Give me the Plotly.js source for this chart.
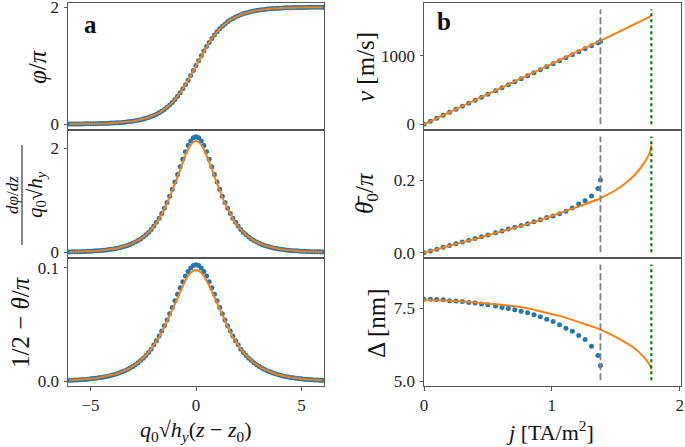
<!DOCTYPE html>
<html><head><meta charset="utf-8">
<script src="https://cdn.plot.ly/plotly-3.0.1.min.js"></script>
<style>html,body{margin:0;padding:0;background:#fff}</style>
</head><body><div id="chart" style="width:685px;height:447px"></div>
<script>
// ---- panel a data (x = q0*sqrt(hy)*(z - z0)) ----
const xA = [-6,-5.875,-5.75,-5.625,-5.5,-5.375,-5.25,-5.125,-5,-4.875,-4.75,-4.625,-4.5,-4.375,-4.25,-4.125,-4,-3.875,-3.75,-3.625,-3.5,-3.375,-3.25,-3.125,-3,-2.875,-2.75,-2.625,-2.5,-2.375,-2.25,-2.125,-2,-1.875,-1.75,-1.625,-1.5,-1.375,-1.25,-1.125,-1,-0.875,-0.75,-0.625,-0.5,-0.375,-0.25,-0.125,0,0.125,0.25,0.375,0.5,0.625,0.75,0.875,1,1.125,1.25,1.375,1.5,1.625,1.75,1.875,2,2.125,2.25,2.375,2.5,2.625,2.75,2.875,3,3.125,3.25,3.375,3.5,3.625,3.75,3.875,4,4.125,4.25,4.375,4.5,4.625,4.75,4.875,5,5.125,5.25,5.375,5.5,5.625,5.75,5.875,6];
const phi = [0.002,0.002,0.003,0.003,0.004,0.004,0.005,0.005,0.006,0.007,0.008,0.009,0.010,0.012,0.013,0.015,0.018,0.020,0.023,0.026,0.030,0.034,0.039,0.045,0.051,0.059,0.067,0.077,0.088,0.100,0.114,0.131,0.149,0.170,0.194,0.221,0.252,0.287,0.327,0.371,0.420,0.476,0.537,0.603,0.675,0.751,0.832,0.915,1,1.085,1.168,1.249,1.325,1.397,1.463,1.524,1.580,1.629,1.673,1.713,1.748,1.779,1.806,1.830,1.851,1.869,1.886,1.900,1.912,1.923,1.933,1.941,1.949,1.955,1.961,1.966,1.970,1.974,1.977,1.980,1.982,1.985,1.987,1.988,1.990,1.991,1.992,1.993,1.994,1.995,1.995,1.996,1.996,1.997,1.997,1.998,1.998];
const dphiLine = [0.007,0.008,0.009,0.010,0.012,0.014,0.016,0.018,0.020,0.023,0.027,0.030,0.035,0.040,0.045,0.052,0.059,0.068,0.077,0.088,0.101,0.116,0.132,0.151,0.172,0.197,0.225,0.257,0.294,0.335,0.382,0.436,0.497,0.565,0.643,0.730,0.826,0.934,1.051,1.178,1.314,1.455,1.597,1.737,1.866,1.979,2.066,2.121,2.140,2.121,2.066,1.979,1.866,1.737,1.597,1.455,1.314,1.178,1.051,0.934,0.826,0.730,0.643,0.565,0.497,0.436,0.382,0.335,0.294,0.257,0.225,0.197,0.172,0.151,0.132,0.116,0.101,0.088,0.077,0.068,0.059,0.052,0.045,0.040,0.035,0.030,0.027,0.023,0.020,0.018,0.016,0.014,0.012,0.010,0.009,0.008,0.007];
const dphiDots = [0.007,0.008,0.009,0.010,0.012,0.014,0.016,0.018,0.020,0.023,0.027,0.030,0.035,0.040,0.045,0.052,0.059,0.068,0.077,0.088,0.101,0.116,0.132,0.151,0.172,0.197,0.225,0.257,0.294,0.335,0.382,0.436,0.505,0.575,0.655,0.745,0.845,0.955,1.075,1.21,1.35,1.495,1.645,1.79,1.93,2.05,2.14,2.20,2.22,2.20,2.14,2.05,1.93,1.79,1.645,1.495,1.35,1.21,1.075,0.955,0.845,0.745,0.655,0.575,0.505,0.436,0.382,0.335,0.294,0.257,0.225,0.197,0.172,0.151,0.132,0.116,0.101,0.088,0.077,0.068,0.059,0.052,0.045,0.040,0.035,0.030,0.027,0.023,0.020,0.018,0.016,0.014,0.012,0.010,0.009,0.008,0.007];
const thLine = [.0009,.0010,.0011,.0012,.0014,.0016,.0017,.0019,.0022,.0024,.0027,.0031,.0034,.0038,.0043,.0048,.0054,.0060,.0067,.0075,.0084,.0094,.0105,.0117,.0131,.0147,.0164,.0183,.0204,.0228,.0254,.0283,.0315,.0351,.0389,.0431,.0476,.0524,.0576,.0629,.0684,.0739,.0792,.0843,.0889,.0927,.0956,.0974,.0980,.0974,.0956,.0927,.0889,.0843,.0792,.0739,.0684,.0629,.0576,.0524,.0476,.0431,.0389,.0351,.0315,.0283,.0254,.0228,.0204,.0183,.0164,.0147,.0131,.0117,.0105,.0094,.0084,.0075,.0067,.0060,.0054,.0048,.0043,.0038,.0034,.0031,.0027,.0024,.0022,.0019,.0017,.0016,.0014,.0012,.0011,.0010,.0009];
const thDots = [.0009,.0010,.0011,.0012,.0014,.0016,.0017,.0019,.0022,.0024,.0027,.0031,.0034,.0038,.0043,.0048,.0054,.0060,.0067,.0075,.0084,.0094,.0105,.0117,.0131,.0147,.0164,.0183,.0204,.0228,.0254,.0283,.0321,.0358,.0398,.0442,.0489,.0539,.0594,.0650,.0708,.0766,.0823,.0877,.0926,.0967,.0998,.1018,.1025,.1018,.0998,.0967,.0926,.0877,.0823,.0766,.0708,.0650,.0594,.0539,.0489,.0442,.0398,.0358,.0321,.0283,.0254,.0228,.0204,.0183,.0164,.0147,.0131,.0117,.0105,.0094,.0084,.0075,.0067,.0060,.0054,.0048,.0043,.0038,.0034,.0031,.0027,.0024,.0022,.0019,.0017,.0016,.0014,.0012,.0011,.0010,.0009];

// ---- panel b data (j in TA/m^2) ----
const jDots = [0,0.05,0.10,0.15,0.20,0.25,0.30,0.35,0.40,0.45,0.50,0.56,0.61,0.66,0.71,0.76,0.81,0.86,0.91,0.96,1.01,1.06,1.11,1.16,1.21,1.26,1.31,1.36,1.38];
const vDots = [0,44,88,131,175,219,263,306,350,394,438,490,534,578,621,665,709,753,796,840,884,928,971,1015,1059,1103,1146,1190,1208];
const th0Dots = [0,.005,.0098,.0147,.0196,.0245,.0294,.0343,.0392,.0441,.049,.055,.060,.065,.070,.075,.080,.085,.091,.097,.101,.107,.114,.123,.134,.143,.156,.177,.200];
const deltaDots = [7.81,7.81,7.80,7.79,7.76,7.75,7.73,7.70,7.68,7.65,7.62,7.58,7.53,7.49,7.45,7.40,7.35,7.28,7.21,7.12,7.05,6.94,6.82,6.71,6.57,6.43,6.20,5.88,5.54];
const jLine = [0,0.2,0.4,0.6,0.8,0.91,1.067,1.224,1.38,1.537,1.642,1.72,1.76,1.772,1.778];
const vLine = [0,176,352,529,705,802,941,1080,1219,1360,1455,1525,1562,1578,1590];
const th0Line = [0,0.019,0.038,0.058,0.078,0.090,0.110,0.129,0.150,0.181,0.212,0.246,0.271,0.283,0.297];
const deltaLine = [7.78,7.76,7.70,7.62,7.51,7.40,7.23,7.01,6.77,6.43,6.15,5.83,5.60,5.50,5.40];
const jCross = 1.38;   // grey dashed marker
const jCrit = 1.778;   // green dotted marker

const BLUE = '#1f77b4', ORANGE = '#ff7f0e';
const FONT = '"Liberation Serif", "DejaVu Serif", serif';
const dots = (x, y, ax) => ({x, y, xaxis: 'x'+ax, yaxis: 'y'+ax, type: 'scatter', mode: 'markers',
  marker: {color: BLUE, size: 5}, hoverinfo: 'skip'});
const line = (x, y, ax, smooth) => ({x, y, xaxis: 'x'+ax, yaxis: 'y'+ax, type: 'scatter', mode: 'lines',
  line: {color: ORANGE, width: 2, shape: smooth ? 'spline' : 'linear', smoothing: 0.8}, hoverinfo: 'skip'});

const data = [
  dots(xA, phi, ''), line(xA, phi, ''),
  dots(xA, dphiDots, '2'), line(xA, dphiLine, '2'),
  dots(xA, thDots, '3'), line(xA, thLine, '3'),
  dots(jDots, vDots, '4'), line(jLine, vLine, '4', true),
  dots(jDots, th0Dots, '5'), line(jLine, th0Line, '5', true),
  dots(jDots, deltaDots, '6'), line(jLine, deltaLine, '6', true)
];

const L = 68, W = 613, T = 3, H = 383;
const px = v => (v - L) / W, py = v => (T + H - v) / H;
const colL = [0, px(324)], colR = [px(424), 1];
const rows = [[py(130), 1], [py(258), py(130)], [0, py(258)]];
const TICKF = {family: FONT, size: 17, color: '#222'};

function xax(dom, anchor, range, tv, tt, show) {
  return {domain: dom, anchor, range, showline: true, mirror: true, linecolor: '#555', linewidth: 1,
    zeroline: false, showgrid: false, ticks: show ? 'outside' : '', ticklen: 3.5, tickcolor: '#555',
    tickvals: tv, ticktext: tt, showticklabels: show, tickfont: TICKF, ticklabeloverflow: 'allow'};
}
function yax(dom, anchor, range, tv, tt) {
  return {domain: dom, anchor, range, showline: true, mirror: true, linecolor: '#555', linewidth: 1,
    zeroline: false, showgrid: false, ticks: 'outside', ticklen: 3.5, tickcolor: '#555',
    tickvals: tv, ticktext: tt, tickfont: TICKF, ticklabeloverflow: 'allow', ticklabelstandoff: 1};
}
const xlT = [-5, 0, 5], xlTT = ['\u22125', '0', '5'];
const xrT = [0, 1, 2], xrTT = ['0', '1', '2'];
const xlR = [-6.07, 6.07], xrR = [0, 2.01];

const ann = (x, y, text, size, angle) => ({xref: 'paper', yref: 'paper', x: px(x), y: py(y),
  text, showarrow: false, textangle: angle || 0, xanchor: 'center', yanchor: 'middle',
  font: {family: FONT, size, color: '#111'}});

const vl = (ax, xv, color, dash) => ({type: 'line', xref: 'x'+ax, yref: 'y'+ax+' domain', x0: xv, x1: xv,
  y0: 0.045, y1: 0.95, line: {color, width: dash === 'dot' ? 2.2 : 1.8, dash: dash === 'dot' ? 'dot' : '7px,3px'}});

const layout = {
  width: 685, height: 447, margin: {l: L, r: 685 - L - W, t: T, b: 447 - T - H},
  paper_bgcolor: '#fff', plot_bgcolor: '#fff', showlegend: false,
  xaxis: xax(colL, 'y', xlR, xlT, xlTT, false),
  yaxis: yax(rows[0], 'x', [-0.1, 2.07], [0, 2], ['0', '2']),
  xaxis2: xax(colL, 'y2', xlR, xlT, xlTT, false),
  yaxis2: yax(rows[1], 'x2', [-0.11, 2.35], [0, 2], ['0', '2']),
  xaxis3: xax(colL, 'y3', xlR, xlT, xlTT, true),
  yaxis3: yax(rows[2], 'x3', [-0.0041, 0.1085], [0, 0.1], ['0.0', '0.1']),
  xaxis4: xax(colR, 'y4', xrR, xrT, xrTT, false),
  yaxis4: yax(rows[0], 'x4', [-83, 1768], [0, 1000], ['0', '1000']),
  xaxis5: xax(colR, 'y5', xrR, xrT, xrTT, false),
  yaxis5: yax(rows[1], 'x5', [-0.0146, 0.338], [0, 0.2], ['0.0', '0.2']),
  xaxis6: xax(colR, 'y6', xrR, xrT, xrTT, true),
  yaxis6: yax(rows[2], 'x6', [4.84, 9.22], [5, 7.5], ['5.0', '7.5']),
  shapes: [
    vl('4', jCross, 'grey', 'dash'), vl('4', jCrit, 'green', 'dot'),
    vl('5', jCross, 'grey', 'dash'), vl('5', jCrit, 'green', 'dot'),
    vl('6', jCross, 'grey', 'dash'), vl('6', jCrit, 'green', 'dot'),
    {type: 'line', xref: 'paper', yref: 'paper', x0: px(22), x1: px(22), y0: py(145), y1: py(245), line: {color: '#111', width: 1}}
  ],
  annotations: [
    ann(90, 24, '<b>a</b>', 25),
    ann(444, 21, '<b>b</b>', 25),
    ann(38, 67, '<i>φ</i>/<i>π</i>', 25, -90),
    ann(12, 195, '<i>dφ</i>/<i>dz</i>', 17, -90),
    ann(36, 195, '<i>q</i><sub>0</sub>√<i>h<sub>y</sub></i>', 21, -90),
    ann(20, 322, '1/2 − <i>θ</i>/<i>π</i>', 25, -90),
    ann(196, 431, '<i>q</i><sub>0</sub>√<i>h<sub>y</sub></i>(<i>z</i> − <i>z</i><sub>0</sub>)', 22),
    ann(366, 67, '<i>v</i> [m/s]', 25, -90),
    ann(366, 193, '<i>θ̄</i><sub>0</sub>/<i>π</i>', 25, -90),
    ann(376, 323, 'Δ [nm]', 25, -90),
    ann(550, 431, '<i>j</i> [TA/m<sup>2</sup>]', 22)
  ]
};
Plotly.newPlot('chart', data, layout, {staticPlot: true, displayModeBar: false});
</script></body></html>
